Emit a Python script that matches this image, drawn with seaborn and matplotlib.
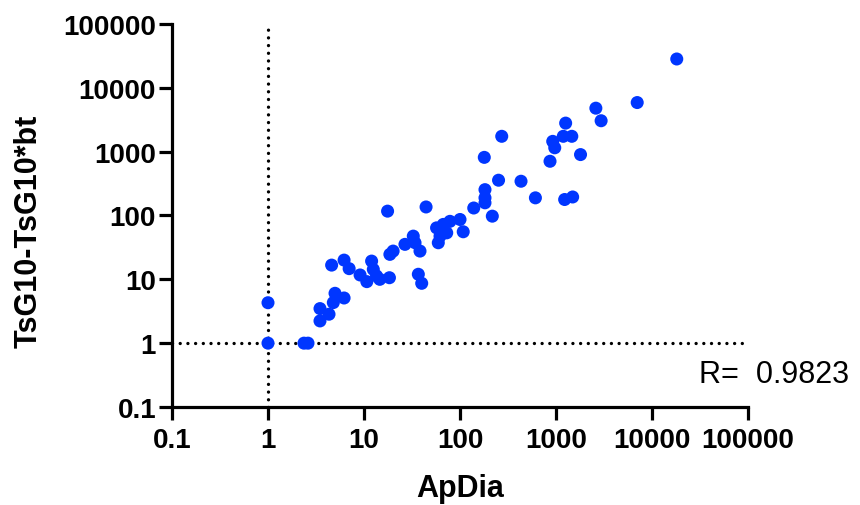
import matplotlib
matplotlib.use("Agg")
import matplotlib.pyplot as plt
import matplotlib.ticker as mticker
import seaborn as sns
import pandas as pd

# ---- data ----
apdia = [1, 1, 2.37, 2.61, 3.48, 3.48, 4.32, 4.79, 4.99, 6.2,
         4.6, 6.2, 7.0, 9.1, 10.7, 12.0, 12.5, 13.5, 14.6, 17.6,
         18.4, 18.6, 20.1, 26.7, 32.6, 34, 38.3, 36.8, 39.9, 44.3,
         57, 61.9, 67, 78.6, 100, 108, 59.4, 72.7, 272, 179,
         252, 432, 610, 182, 182, 182, 139, 217, 866, 924,
         970, 1190, 1460, 1260, 1230, 1490, 1800, 7010, 2600, 2950,
         18100]
tsg = [1, 4.3, 1, 1, 2.23, 3.48, 2.84, 4.32, 6.04, 5.1,
       16.7, 20, 14.7, 11.7, 9.2, 19.3, 14.3, 11.3, 10, 117,
       10.6, 24.6, 27.7, 35.3, 47.5, 37.4, 27.7, 12, 8.66, 136,
       64, 47.5, 72.5, 81, 86.6, 55.6, 37.4, 53.5, 1740, 814,
       357, 344, 189, 254, 189, 158, 131, 97.6, 707, 1450,
       1150, 1740, 1740, 2800, 178, 195, 900, 5880, 4800, 3050,
       28300]
tick_values = [0.1, 1, 10, 100, 1000, 10000, 100000]
tick_labels = ["0.1", "1", "10", "100", "1000", "10000", "100000"]
r_text = "R=  0.9823"

df = pd.DataFrame({"ApDia": apdia, "TsG": tsg})

sns.set_theme(style="white")
plt.rcParams["font.family"] = ["Liberation Sans", "DejaVu Sans"]
plt.rcParams["text.color"] = "black"
plt.rcParams["axes.labelcolor"] = "black"

fig = plt.figure(figsize=(8.6, 5.06), dpi=100)
ax = fig.add_axes([0.2, 0.1937, 0.6698, 0.7569])

ax.set_xscale("log")
ax.set_yscale("log")
ax.set_xlim(0.1, 100000)
ax.set_ylim(0.1, 100000)

ax.axvline(1, color="black", lw=2.4, ls=(0, (0.01, 2.3)), dash_capstyle="round", zorder=1)
ax.axhline(1, color="black", lw=2.4, ls=(0, (0.01, 2.3)), dash_capstyle="round", zorder=1)

sns.scatterplot(data=df, x="ApDia", y="TsG", ax=ax, color="#0036ff",
                s=88, edgecolor="none", linewidth=0, zorder=3)

ax.xaxis.set_major_locator(mticker.FixedLocator(tick_values))
ax.yaxis.set_major_locator(mticker.FixedLocator(tick_values))
ax.xaxis.set_minor_locator(mticker.NullLocator())
ax.yaxis.set_minor_locator(mticker.NullLocator())
ax.set_xticklabels(tick_labels, fontweight="bold", fontsize=20)
ax.set_yticklabels(tick_labels, fontweight="bold", fontsize=20)

for side in ["top", "right"]:
    ax.spines[side].set_visible(False)
for side in ["left", "bottom"]:
    ax.spines[side].set_linewidth(2.3)
    ax.spines[side].set_color("black")
    ax.spines[side].set_capstyle("projecting")
ax.tick_params(axis="both", which="major", direction="out", length=9.5, width=2.3,
               color="black", labelcolor="black", pad=2, left=True, bottom=True)
ax.tick_params(axis="x", pad=5)

ax.set_xlabel("ApDia", fontweight="bold", fontsize=22, labelpad=14)
ax.set_ylabel("TsG10-TsG10*bt", fontweight="bold", fontsize=22)
ax.yaxis.set_label_coords(-0.222, 0.462)

ax.text(1.046, 0.086, r_text, transform=ax.transAxes, fontsize=22,
        color="black", ha="center", va="center")

fig.savefig("out.png", dpi=100)
